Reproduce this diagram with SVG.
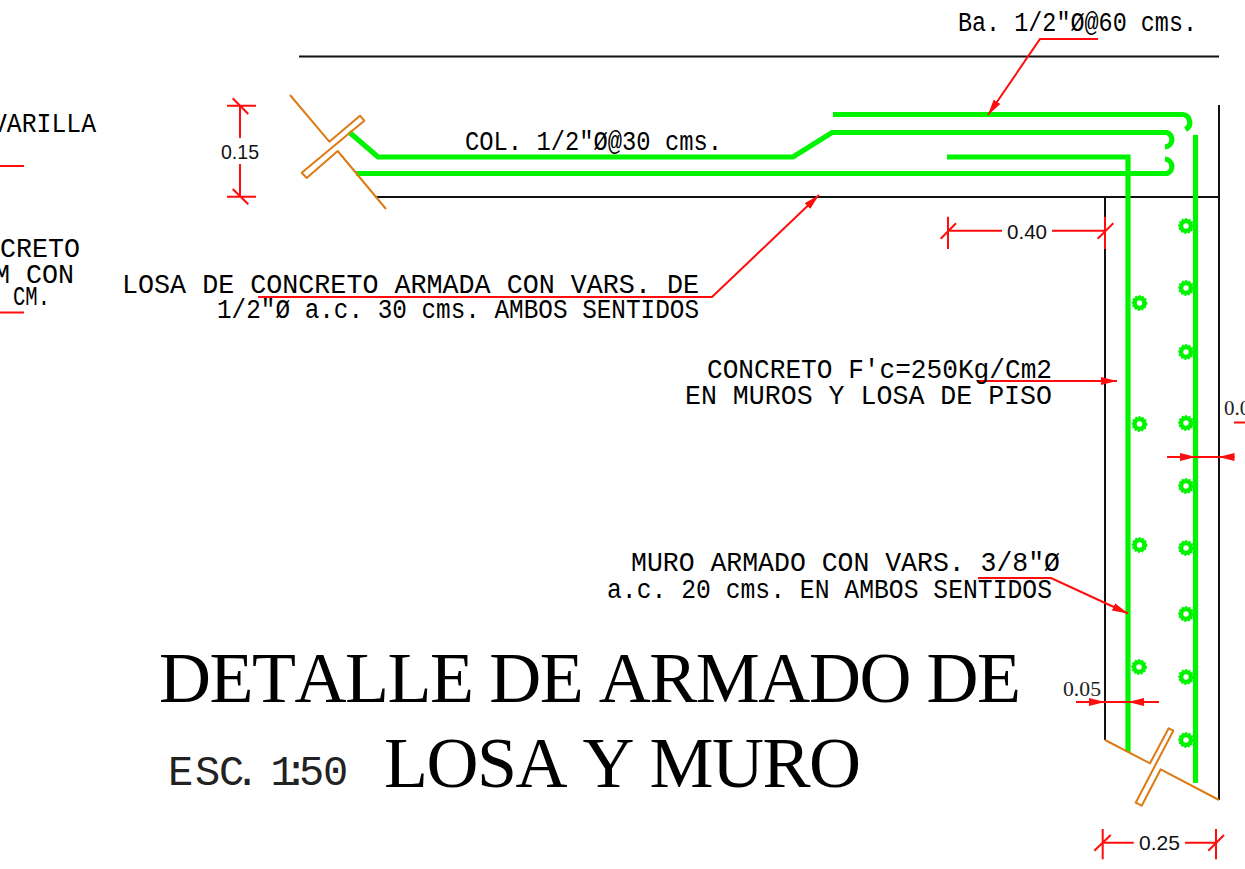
<svg xmlns="http://www.w3.org/2000/svg" xmlns:xlink="http://www.w3.org/1999/xlink" width="1245" height="869" viewBox="0 0 1245 869">
<style>
.bg{fill:#fff}
.k{fill:none;stroke:#111;stroke-width:2}
.g{fill:none;stroke:#00f400;stroke-width:5.200}
.o{fill:none;stroke:#dd7a14;stroke-width:2;stroke-linejoin:round}
.r{fill:none;stroke:#ff0c0c;stroke-width:2}
.t{font-family:"Liberation Mono",monospace;font-size:27px;fill:#000}
.d{font-family:"Liberation Sans",sans-serif;font-size:21px;fill:#111}
.s{font-family:"Liberation Serif",serif;font-size:21px;fill:#222}
.h{font-family:"Liberation Serif",serif;font-size:72px;fill:#000;font-kerning:none}
.e{font-family:"Liberation Mono",monospace;font-size:42px;fill:#222}
</style>
<defs>
<marker id="ah" markerUnits="userSpaceOnUse" markerWidth="17" markerHeight="10" refX="16" refY="5" orient="auto"><path d="M0 1L16 5L0 9Z" fill="#ff0c0c"/></marker>
<g id="dot"><circle r="4.900" fill="none" stroke="#00f400" stroke-width="4.400"/><circle r="6.900" fill="none" stroke="#00f400" stroke-width="2" stroke-dasharray="1.800 1.700"/></g>
</defs>
<rect class="bg" width="1245" height="869"/>
<g id="walls">
<path class="k" d="M299 56.500H1219M375 197H1219M1105 197V740M1219 105V800"/>
</g>
<g id="rebar">
<path class="g" d="M833 114.500H1183A8 8 0 0 1 1185.500 129.500"/>
<path class="g" d="M349 132L378 157H793L832 132.500H1167A7.500 7.500 0 0 1 1165 147"/>
<path class="g" d="M356 173.500H1167A7.500 7.500 0 0 0 1165 159"/>
<path class="g" d="M947 157H1128V752"/>
<path class="g" d="M1195.500 135V783"/>
<use xlink:href="#dot" href="#dot" x="1139.500" y="303"/><use xlink:href="#dot" href="#dot" x="1139.500" y="424"/><use xlink:href="#dot" href="#dot" x="1139.500" y="545"/><use xlink:href="#dot" href="#dot" x="1139" y="667"/>
<use xlink:href="#dot" href="#dot" x="1186" y="226"/><use xlink:href="#dot" href="#dot" x="1186" y="288"/><use xlink:href="#dot" href="#dot" x="1186" y="352"/><use xlink:href="#dot" href="#dot" x="1186" y="423"/><use xlink:href="#dot" href="#dot" x="1186" y="486"/><use xlink:href="#dot" href="#dot" x="1186" y="548"/><use xlink:href="#dot" href="#dot" x="1186" y="614"/><use xlink:href="#dot" href="#dot" x="1186" y="677"/><use xlink:href="#dot" href="#dot" x="1186" y="740"/>
</g>
<g id="break-lines">
<path class="o" d="M290 95L329.300 141.700L360 115.700L364.300 120.700L301.700 172.700L306.700 178L337.700 151L386 209"/>
<path class="o" d="M1105 740L1150 763.300L1168.700 728.300L1173.300 730.700L1135.700 802.700L1141.700 805.700L1160.700 769.300L1219 800"/>
</g>
<g id="connectors">
<path class="r" d="M1098 39H1040L988 115" marker-end="url(#ah)"/>
<path class="r" d="M258 297H712L819 195" marker-end="url(#ah)"/>
<path class="r" d="M978 381H1117" marker-end="url(#ah)"/>
<path class="r" d="M978 578H1051L1128 613.500" marker-end="url(#ah)"/>
<path class="r" d="M0 166H24M0 312.500H24M1234 422.500H1245"/>
<path class="r" d="M1076 702H1105" marker-end="url(#ah)"/>
<path class="r" d="M1159 702H1128" marker-end="url(#ah)"/>
<path class="r" d="M1105 702H1128"/>
<path class="r" d="M1167 457H1196" marker-end="url(#ah)"/>
<path class="r" d="M1234.500 457H1218.500" marker-end="url(#ah)"/>
<path class="r" d="M1196 457H1218"/>
</g>
<g id="dim-015"><path class="r" d="M240 106V138M240 164V197M227 105.700H256M227 196.700H256M232.700 98.300L248.300 114M232.700 189L248.300 204.300"/><text class="d" x="221" y="158.500" textLength="38" lengthAdjust="spacingAndGlyphs">0.15</text></g>
<g id="dim-040"><path class="r" d="M948 230.700H1002M1052 230.700H1105M948 216.700V249M1105 216.700V249M940.700 238.700L956 223.300M1097.700 238.700L1113.300 223.300"/><text class="d" x="1007" y="238.500" textLength="40" lengthAdjust="spacingAndGlyphs">0.40</text></g>
<g id="dim-025"><path class="r" d="M1102.700 842.700H1133.700M1185 842.700H1216M1102.700 829V859.300M1216 829V859.300M1094.300 850.700L1110.700 835M1208.300 850.700L1224 835"/><text class="d" x="1139" y="850" textLength="41" lengthAdjust="spacingAndGlyphs">0.25</text></g>
<g id="dim-005"><text class="s" x="1063" y="696" textLength="38" lengthAdjust="spacingAndGlyphs">0.05</text></g>
<g id="dim-00"><text class="s" x="1224" y="415">0.0</text></g>
<g id="labels">
<text class="t" x="958" y="31" textLength="239" lengthAdjust="spacingAndGlyphs">Ba. 1/2"Ø@60 cms.</text>
<text class="t" x="465" y="150" textLength="257" lengthAdjust="spacingAndGlyphs">COL. 1/2"Ø@30 cms.</text>
<text class="t" x="122" y="293" textLength="577" lengthAdjust="spacingAndGlyphs">LOSA DE CONCRETO ARMADA CON VARS. DE</text>
<text class="t" x="217" y="318" textLength="482" lengthAdjust="spacingAndGlyphs">1/2"Ø a.c. 30 cms. AMBOS SENTIDOS</text>
<text class="t" x="707" y="377.500" textLength="345" lengthAdjust="spacingAndGlyphs">CONCRETO F'c=250Kg/Cm2</text>
<text class="t" x="685" y="404" textLength="367" lengthAdjust="spacingAndGlyphs">EN MUROS Y LOSA DE PISO</text>
<text class="t" x="631" y="571" textLength="429" lengthAdjust="spacingAndGlyphs">MURO ARMADO CON VARS. 3/8"Ø</text>
<text class="t" x="607" y="598" textLength="445" lengthAdjust="spacingAndGlyphs">a.c. 20 cms. EN AMBOS SENTIDOS</text>
<text class="t" x="-8" y="132" textLength="104" lengthAdjust="spacingAndGlyphs">VARILLA</text>
<text class="t" x="-48" y="257" textLength="128" lengthAdjust="spacingAndGlyphs">CONCRETO</text>
<text class="t" x="-6" y="283" textLength="80" lengthAdjust="spacingAndGlyphs">M CON</text>
<text class="t" x="13" y="305" textLength="37" lengthAdjust="spacingAndGlyphs">CM.</text>
</g>
<g id="title">
<text class="h" x="159" y="702" textLength="862">DETALLE DE ARMADO DE</text>
<text class="e" x="168 195 219 234.500 252 270.500 283.500 299 323" y="785">ESC. 1:50</text>
<text class="h" x="384" y="787" textLength="477">LOSA Y MURO</text>
</g>
</svg>
